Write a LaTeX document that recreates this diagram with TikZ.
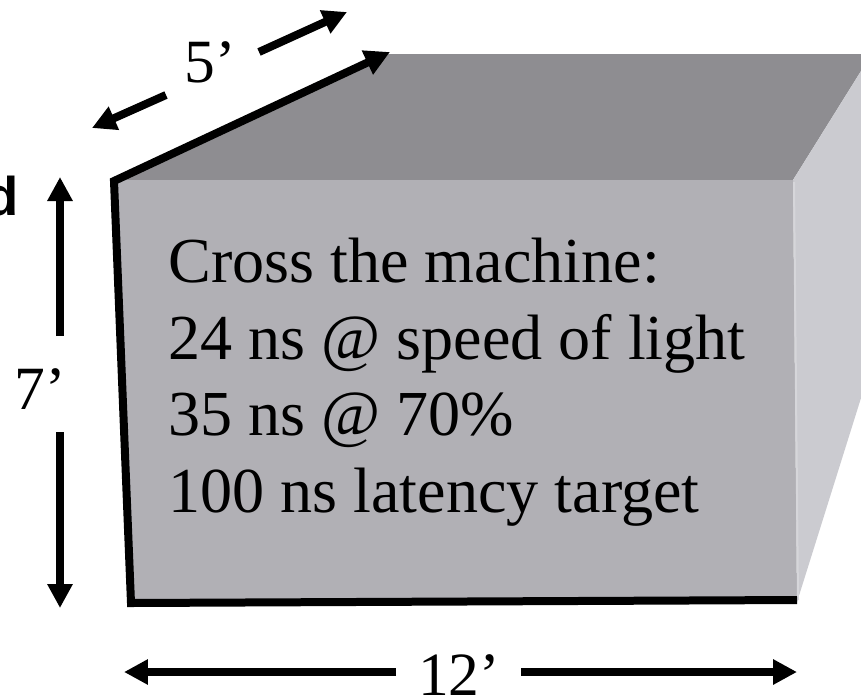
\documentclass[tikz,border=0pt]{standalone}
\usepackage{fontspec}
\usepackage{xcolor}
\setmainfont{Liberation Serif}
\newfontfamily\labelsans{Liberation Sans}
\usetikzlibrary{arrows.meta, positioning}
\definecolor{box-front}{HTML}{B1B0B5}
\definecolor{box-top}{HTML}{8E8D91}
\definecolor{box-side}{HTML}{CBCBD0}
\definecolor{box-seam}{HTML}{D6D6DA}

\begin{document}
\begin{tikzpicture}[
    x=0.02cm, y=-0.02cm,
    dim/.style={line width=0.16cm, -{Triangle[length=0.48cm, width=0.48cm]}},
    edge/.style={line width=0.16cm, miter limit=4, -{Triangle[length=0.5cm, width=0.5cm]}},
    dimtext/.style={inner sep=0pt, anchor=base, font=\fontsize{35}{35}\selectfont},
    body/.style={inner sep=0pt, align=left, anchor=north west, font=\fontsize{36.5}{43.5}\selectfont}
]
    \useasboundingbox (0,0) rectangle (861,697);
    % faces of the box
    \fill [box-top] (113,180) -- (388,54) -- (861,54) -- (861,71) -- (793,180) -- cycle;
    \fill [box-side] (793,180) -- (861,71) -- (861,398) -- (797,602) -- cycle;
    \fill [box-front] (113,180) -- (793,180) -- (797,601) -- (130,604) -- cycle;
    \draw [box-seam, line width=0.04cm] (794,182) -- (798,600);

    % heavy edges
    \coordinate (right) at (797,600);
    \coordinate (foot) at (131,603);
    \coordinate (corner) at (114,181);
    \coordinate (back) at (390,52);
    \draw [edge] (right) -- (foot) -- (corner) -- (back);

    \node (depth) [dimtext] at (210,82) {5’};
    \coordinate (depth-a) at (166,95);
    \coordinate (depth-a-tip) at (92,128);
    \coordinate (depth-b) at (259,52);
    \coordinate (depth-b-tip) at (347,12);
    \draw [dim] (depth-a) -- (depth-a-tip);
    \draw [dim] (depth-b) -- (depth-b-tip);

    \node (height) [dimtext] at (40,409) {7’};
    \coordinate (height-a) at (60,336);
    \coordinate (height-a-tip) at (60,177);
    \coordinate (height-b) at (60,432);
    \coordinate (height-b-tip) at (60,608);
    \draw [dim] (height-a) -- (height-a-tip);
    \draw [dim] (height-b) -- (height-b-tip);

    \node (width) [dimtext] at (459,695) {12’};
    \coordinate (width-a) at (396,672);
    \coordinate (width-a-tip) at (124,672);
    \coordinate (width-b) at (521,672);
    \coordinate (width-b-tip) at (797,672);
    \draw [dim] (width-a) -- (width-a-tip);
    \draw [dim] (width-b) -- (width-b-tip);

    \node (cut) [inner sep=0pt, anchor=base east, font=\labelsans\bfseries\fontsize{31}{31}\selectfont] at (19,215) {d};

    \node (facts) [body] at (168,238) {Cross the machine:\\24 ns @ speed of light\\35 ns @ 70\%\\100 ns latency target};
\end{tikzpicture}
\end{document}
